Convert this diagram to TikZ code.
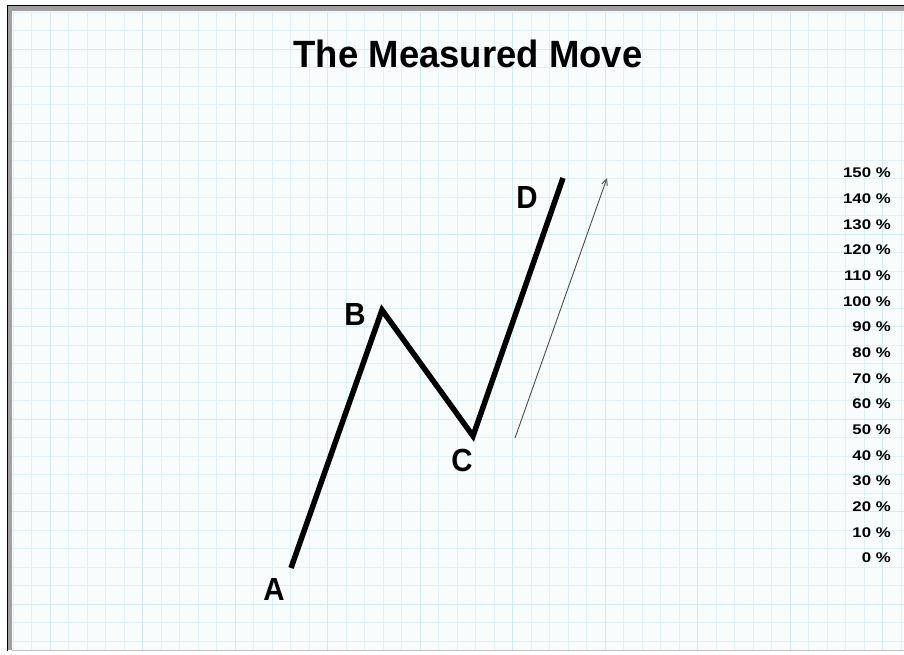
\documentclass[tikz,border=0pt]{standalone}
\usepackage{fontspec}
\setmainfont{Liberation Sans}
\usetikzlibrary{arrows.meta}
\definecolor{gridBlue}{HTML}{DFF1F5}
\definecolor{gridMajor}{HTML}{D3EBF0}
\definecolor{paperBlue}{HTML}{F8FCFD}
\definecolor{frameGray}{HTML}{A0A0A0}

\begin{document}
\begin{tikzpicture}[x=1pt,y=-1pt,
  leg/.style={line width=5.5pt,line join=miter,line cap=butt},
  point/.style={font=\bfseries\fontsize{32}{32}\selectfont,inner sep=0pt,xscale=0.92},
  pct/.style={font=\bfseries\fontsize{14}{14}\selectfont,anchor=east,inner sep=0pt,xscale=1.2},
  guide/.style={-{Straight Barb[length=2.2mm,width=2mm]},draw=black!70,line width=0.9pt}
]
\useasboundingbox (0,0) rectangle (904,654);
% paper and grid
\fill[paperBlue] (10,10) rectangle (904,650);
\foreach \x in {13,31.5,...,904} \draw[gridBlue,line width=0.7pt] (\x,12) -- (\x,650);
\foreach \y in {12,30.5,...,650} \draw[gridBlue,line width=0.7pt] (12,\y) -- (904,\y);
\foreach \x in {50,142.5,...,904} \draw[gridMajor,line width=1pt] (\x,12) -- (\x,650);
\foreach \y in {49,141.5,...,650} \draw[gridMajor,line width=1pt] (12,\y) -- (904,\y);
% frame
\draw[frameGray,line width=5pt] (9.5,650) -- (9.5,8.5) -- (904,8.5);
\draw[black,line width=0.8pt] (7,651) -- (7,5) -- (904,5);
\draw[black!25,line width=0.8pt] (12,650) -- (904,650);

\node[font=\bfseries\fontsize{38}{38}\selectfont,xscale=0.96] (title) at (468,54) {The Measured Move};

% swing points
\coordinate (a) at (291,568);
\coordinate (b) at (382,310);
\coordinate (c) at (473,436);
\coordinate (d) at (563,178);
\draw[leg] (a) -- (b) -- (c) -- (d);

\node[point] (labA) at (274,589) {A};
\node[point] (labB) at (355,314) {B};
\node[point] (labC) at (462,460) {C};
\node[point] (labD) at (527,197) {D};

% projected leg
\coordinate (g0) at (515,438);
\coordinate (g1) at (607,178);
\draw[guide] (g0) -- (g1);

% percent scale
\foreach \p in {0,10,...,150}
  \node[pct] (pct\p) at (891,{558-2.567*\p}) {\p~\%};
\end{tikzpicture}
\end{document}
